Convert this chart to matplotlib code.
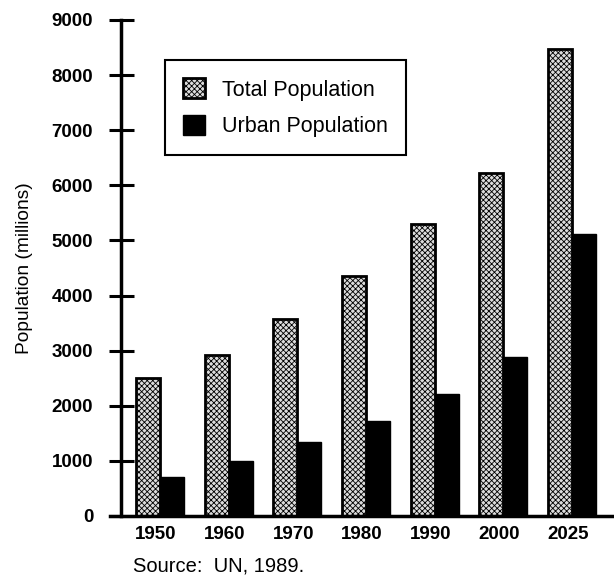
import numpy as np
import matplotlib.pyplot as plt

plt.rcParams["font.family"] = ["Liberation Sans", "DejaVu Sans"]
plt.rcParams["hatch.linewidth"] = 0.6

years = ["1950", "1960", "1970", "1980", "1990", "2000", "2025"]
total_pop = [2500, 2920, 3580, 4360, 5290, 6220, 8470]
urban_pop = [700, 990, 1340, 1720, 2210, 2890, 5110]

x = np.arange(len(years))
bar_width = 0.35

fig = plt.figure(figsize=(6.14, 5.79), dpi=100)
ax = fig.add_axes([110 / 614, 63 / 579, 504 / 614, 496 / 579])

rects1 = ax.bar(
    x - bar_width / 2,
    total_pop,
    width=bar_width,
    facecolor="#dcdcdc",
    edgecolor="black",
    hatch="xxxxxx",
    linewidth=2,
    label="Total Population",
)
rects2 = ax.bar(
    x + bar_width / 2,
    urban_pop,
    width=bar_width,
    color="black",
    edgecolor="black",
    linewidth=1,
    label="Urban Population",
)

ax.set_xlim(-0.728, 6.61)
ax.set_ylim(0, 9000)
ax.set_yticks(np.arange(0, 9001, 1000))
ax.set_xticks(x - 0.06, years)

for side in ["top", "right"]:
    ax.spines[side].set_visible(False)
ax.spines["left"].set_position(("data", -0.568))
ax.spines["left"].set_linewidth(2.5)
ax.spines["bottom"].set_linewidth(2.5)

ax.tick_params(axis="y", direction="inout", length=18, width=2.2, pad=11,
               labelsize=13.5)
ax.tick_params(axis="x", length=0, pad=7, labelsize=13.5)
for lbl in ax.get_xticklabels() + ax.get_yticklabels():
    lbl.set_fontweight("bold")

ax.set_ylabel("Population (millions)", fontsize=13.8)
ax.yaxis.set_label_coords(-0.153, 0.5)

leg = ax.legend(
    loc="upper left",
    bbox_to_anchor=(0.109, 0.919),
    borderaxespad=0,
    fontsize=15.5,
    fancybox=False,
    framealpha=1,
    edgecolor="black",
    handlelength=1.0,
    handleheight=1.05,
    handletextpad=0.8,
    labelspacing=0.65,
    borderpad=0.85,
)
leg.get_frame().set_linewidth(1.5)

fig.text(133 / 614, 1 - 566 / 579, "Source:  UN, 1989.", fontsize=14.5,
         va="center", ha="left")

fig.savefig("out.png", dpi=100)
